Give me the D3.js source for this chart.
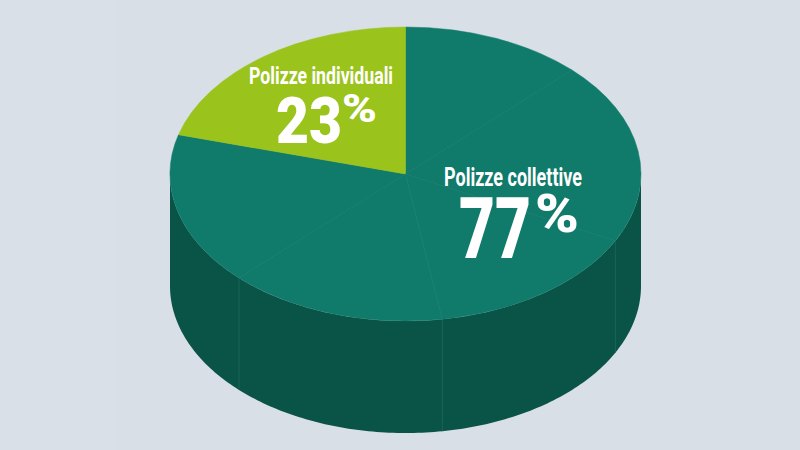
<!DOCTYPE html>
<html>
<head>
<meta charset="utf-8">
<script src="https://cdn.jsdelivr.net/npm/d3@7"></script>
<style>
html,body{margin:0;padding:0;background:#d8dfe6;}
svg{display:block;}
text{font-family:Roboto,"Liberation Sans",sans-serif;font-weight:700;fill:#fff;}
text.big{font-weight:900;}
</style>
</head>
<body>
<svg id="chart" width="800" height="450"></svg>
<script>
// Slice shares (the drawing splits the big group in five sectors)
const sliceNames = ["c1","c2","c3","c4","c5","Polizze individuali"];
const sliceValues = [12.5,20,15,15,16.8,20.7];
const sliceColors = ["#107a6b","#107a6b","#107a6b","#107a6b","#107a6b","#9ac31c"];
const categories = ["Polizze individuali","Polizze collettive"];
const percents = [23,77];

const W=800,H=450;
const cx=405.5,cy=174,rx=235.5,ry=147,depth=112;
const svg=d3.select("#chart");

svg.append("rect").attr("width",W).attr("height",H).attr("fill","#d8dfe6");
svg.append("rect").attr("width",116).attr("height",H).attr("fill","#dae0e7");

const pieData=d3.pie().sort(null).value(d=>d)(sliceValues);
const px=d3.scaleLinear().domain([-1,1]).range([cx-rx,cx+rx]);
const py=d3.scaleLinear().domain([-1,1]).range([cy-ry,cy+ry]);
const ptX=a=>px(Math.sin(a)), ptY=a=>py(-Math.cos(a));

// side wall: lower half of the rim, extruded
const wallColor="#0a5447";
const lower=d3.range(Math.PI/2,3*Math.PI/2+0.001,Math.PI/180);
const rim=d3.line().x(a=>ptX(a)).y(a=>ptY(a));
const front=rim(lower);
const backPts=lower.slice().reverse().map(a=>[ptX(a),ptY(a)+depth]);
svg.append("path")
  .attr("d",front+"L"+backPts.map(p=>p.join(",")).join("L")+"Z")
  .attr("fill",wallColor);

// separators on the wall
const wallSep=pieData.filter(d=>d.endAngle>Math.PI/2&&d.endAngle<3*Math.PI/2);
svg.selectAll("line.sep").data(wallSep).join("line")
  .attr("class","sep")
  .attr("x1",d=>ptX(d.endAngle)).attr("x2",d=>ptX(d.endAngle))
  .attr("y1",d=>ptY(d.endAngle)).attr("y2",d=>ptY(d.endAngle)+depth)
  .attr("stroke","#1f6a58").attr("stroke-width",0.8);

// top face
const arc=d3.arc().innerRadius(0).outerRadius(1);
const topFace=svg.append("g")
  .attr("transform",`translate(${cx},${cy}) scale(${rx},${ry})`);
topFace.selectAll("path.s").data(pieData).join("path")
  .attr("class","s")
  .attr("d",arc)
  .attr("fill",(d,i)=>sliceColors[i])
  .attr("stroke",(d,i)=>sliceColors[i])
  .attr("stroke-width",0.5)
  .attr("vector-effect","non-scaling-stroke");

// faint radial separators on the top face
const topSep=pieData.slice(0,4);
svg.selectAll("line.rad").data(topSep).join("line")
  .attr("class","rad")
  .attr("x1",cx).attr("y1",cy)
  .attr("x2",d=>ptX(d.endAngle)).attr("y2",d=>ptY(d.endAngle))
  .attr("stroke","#1a8072").attr("stroke-width",0.6);

// labels
function addLabel(name,value,o){
  svg.append("text").attr("x",o.nameX).attr("y",o.nameY)
    .attr("font-size",o.nameSize)
    .attr("textLength",o.nameW).attr("lengthAdjust","spacingAndGlyphs")
    .text(name);
  svg.append("text").attr("class","big").attr("x",o.numX).attr("y",o.numY)
    .attr("font-size",o.numSize)
    .attr("textLength",o.numW).attr("lengthAdjust","spacingAndGlyphs")
    .text(value);
  svg.append("text").attr("class","big").attr("x",o.pctX).attr("y",o.pctY)
    .attr("font-size",o.pctSize)
    .attr("textLength",o.pctW).attr("lengthAdjust","spacingAndGlyphs")
    .text("%");
}
addLabel(categories[0],percents[0],{nameX:249,nameY:84,nameSize:24,nameW:144,
  numX:276,numY:143,numSize:65,numW:66,pctX:342,pctY:122,pctSize:39,pctW:35});
addLabel(categories[1],percents[1],{nameX:444,nameY:186,nameSize:25,nameW:138,
  numX:459,numY:258,numSize:85,numW:72,pctX:535,pctY:232,pctSize:53,pctW:44});
</script>
</body>
</html>
